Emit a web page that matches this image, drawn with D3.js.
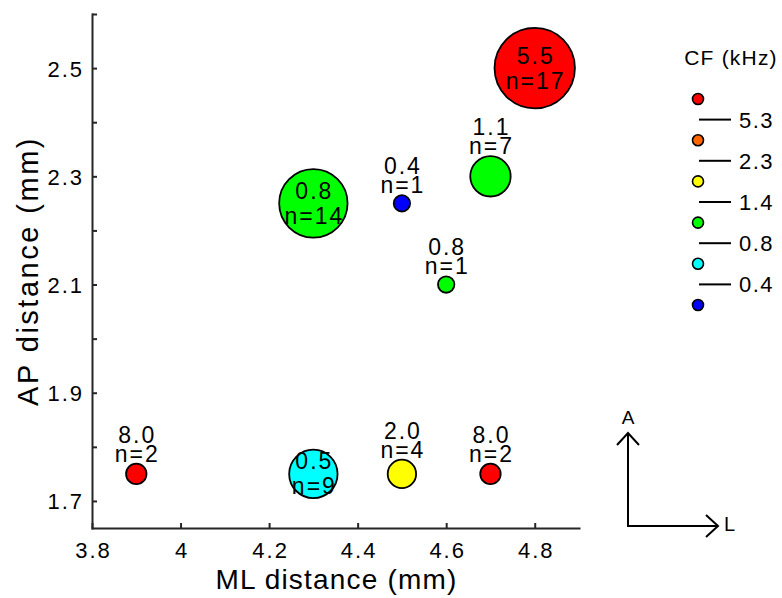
<!DOCTYPE html>
<html>
<head>
<meta charset="utf-8">
<script src="https://cdn.jsdelivr.net/npm/d3@7"></script>
<style>
  html, body { margin: 0; padding: 0; background: #fff; }
  svg { display: block; font-family: "Liberation Sans", Arial, Helvetica, sans-serif; }
</style>
</head>
<body>
<svg id="chart" width="782" height="598"></svg>
<script>
// Recording sites: medio-lateral / antero-posterior position, mean CF and unit count
const mlDistance = [4.8, 4.3, 4.5, 4.7, 4.6, 3.9, 4.3, 4.5, 4.7];
const apDistance = [2.5, 2.25, 2.25, 2.3, 2.1, 1.75, 1.75, 1.75, 1.75];
const meanCF     = [5.5, 0.8, 0.4, 1.1, 0.8, 8.0, 0.5, 2.0, 8.0];
const unitCount  = [17, 14, 1, 7, 1, 2, 9, 4, 2];

// CF bin edges (kHz) and the colour of each bin, low to high
const cfEdges  = [0.42, 0.78, 1.4, 2.3, 5.3];
const cfColors = ["#0000ff", "#00ffff", "#00ff00", "#ffff00", "#ff6600", "#ff0000"];

// Axis ticks
const xTicks = [3.8, 4.0, 4.2, 4.4, 4.6, 4.8];
const yTicks = [1.7, 1.8, 1.9, 2.0, 2.1, 2.2, 2.3, 2.4, 2.5, 2.6];
const yTickLabels = [1.7, 1.9, 2.1, 2.3, 2.5];

const sites = mlDistance.map((ml, i) => ({
  ml, ap: apDistance[i], cf: meanCF[i], n: unitCount[i]
}));

const svg = d3.select("#chart");
const FONT_TICK = 22, FONT_TITLE = 28, FONT_LABEL = 23;
const AXIS_COL = "#262626";

const x = d3.scaleLinear().domain([3.8, 4.9]).range([92, 579]);
const y = d3.scaleLinear().domain([1.65, 2.6]).range([528, 14]);
const r = d3.scaleLinear().domain([0, 17]).range([6.2, 40.2]);
const color = d3.scaleThreshold().domain(cfEdges).range(cfColors);

// ---- axes ----
const fmt = d => String(+d.toFixed(1));

const xAxis = svg.append("g")
  .attr("transform", `translate(0,${y.range()[0]})`)
  .call(d3.axisBottom(x).tickValues(xTicks).tickSizeInner(-5).tickSizeOuter(0).tickFormat(fmt));

const yAxis = svg.append("g")
  .attr("transform", `translate(${x.range()[0]},0)`)
  .call(d3.axisLeft(y).tickValues(yTicks).tickSizeInner(-5).tickSizeOuter(0)
    .tickFormat(d => yTickLabels.some(v => Math.abs(v - d) < 1e-9) ? fmt(d) : ""));

[xAxis, yAxis].forEach(g => {
  g.selectAll("path.domain").attr("stroke", AXIS_COL).attr("stroke-width", 2).attr("stroke-linecap", "square");
  g.selectAll(".tick line").attr("stroke", AXIS_COL).attr("stroke-width", 2);
  g.selectAll(".tick text")
    .attr("fill", "#000")
    .attr("font-size", FONT_TICK)
    .attr("font-family", "Liberation Sans, Arial, sans-serif")
    .style("letter-spacing", "2px");
});
xAxis.selectAll(".tick text").attr("y", 30).attr("dy", null).attr("dx", "1px");
yAxis.selectAll(".tick text").attr("x", -8).attr("dy", "0.36em");

// axis titles
svg.append("text")
  .attr("x", (x.range()[0] + x.range()[1]) / 2 + 1)
  .attr("y", 589)
  .attr("text-anchor", "middle")
  .attr("font-size", FONT_TITLE)
  .style("letter-spacing", "1.2px")
  .text("ML distance (mm)");

svg.append("text")
  .attr("transform", `translate(38,${(y.range()[0] + y.range()[1]) / 2}) rotate(-90)`)
  .attr("text-anchor", "middle")
  .attr("font-size", 29)
  .style("letter-spacing", "2.5px")
  .text("AP distance (mm)");

// ---- bubbles ----
const g = svg.append("g");
g.selectAll("circle.site")
  .data(sites)
  .join("circle")
  .attr("class", "site")
  .attr("cx", d => x(d.ml))
  .attr("cy", d => y(d.ap))
  .attr("r", d => r(d.n))
  .attr("fill", d => color(d.cf))
  .attr("stroke", "#000")
  .attr("stroke-width", 1.8);

// two-line labels (CF, unit count): inside large bubbles, above small ones
const INSIDE_N = 8;
g.selectAll("text.site-label")
  .data(sites)
  .join("text")
  .attr("class", "site-label")
  .attr("text-anchor", "middle")
  .attr("font-size", FONT_LABEL)
  .style("letter-spacing", "2px")
  .each(function (d) {
    const cx = x(d.ml) + 1, cy = y(d.ap), rr = r(d.n) + 0.9;
    const inside = d.n >= INSIDE_N;
    const gap = inside ? 25 : 19;
    const b2 = inside ? cy + 12.5 + 8 : cy - rr - 1;
    const t = d3.select(this);
    t.append("tspan").attr("x", cx).attr("y", b2 - gap).text(d.cf.toFixed(1));
    t.append("tspan").attr("x", cx).attr("y", b2).text("n=" + d.n);
  });

// ---- CF legend ----
const legend = svg.append("g");
legend.append("text")
  .attr("x", 731).attr("y", 65)
  .attr("text-anchor", "middle")
  .attr("font-size", 21)
  .style("letter-spacing", "1.2px")
  .text("CF (kHz)");

const ly = d3.scaleLinear().domain([0, 5]).range([99, 305]);
const legendColors = cfColors.slice().reverse();
legend.selectAll("circle")
  .data(legendColors)
  .join("circle")
  .attr("cx", 698)
  .attr("cy", (c, i) => ly(i))
  .attr("r", 5.5)
  .attr("fill", c => c)
  .attr("stroke", "#000")
  .attr("stroke-width", 1.6);

const edgesDesc = cfEdges.slice().reverse();
legend.selectAll("line.sep")
  .data(edgesDesc)
  .join("line")
  .attr("class", "sep")
  .attr("x1", 699).attr("x2", 731)
  .attr("y1", (e, i) => ly(i + 0.5))
  .attr("y2", (e, i) => ly(i + 0.5))
  .attr("stroke", "#000")
  .attr("stroke-width", 2);

legend.selectAll("text.edge")
  .data(edgesDesc)
  .join("text")
  .attr("class", "edge")
  .attr("x", 739)
  .attr("y", (e, i) => ly(i + 0.5) + 8)
  .attr("font-size", 22)
  .style("letter-spacing", "1.5px")
  .text(e => e.toFixed(1));

// ---- orientation arrows (anterior / lateral) ----
const comp = svg.append("g")
  .attr("fill", "none")
  .attr("stroke", "#000")
  .attr("stroke-width", 2);
comp.append("path").attr("d", "M628,526V433");
comp.append("path").attr("d", "M617,445L628,433L639,445");
comp.append("path").attr("d", "M627,526H718");
comp.append("path").attr("d", "M706,515L718,526L706,537");
svg.append("text").attr("x", 628).attr("y", 424).attr("text-anchor", "middle")
  .attr("font-size", 19).text("A");
svg.append("text").attr("x", 724).attr("y", 531)
  .attr("font-size", 20).text("L");
</script>
</body>
</html>
